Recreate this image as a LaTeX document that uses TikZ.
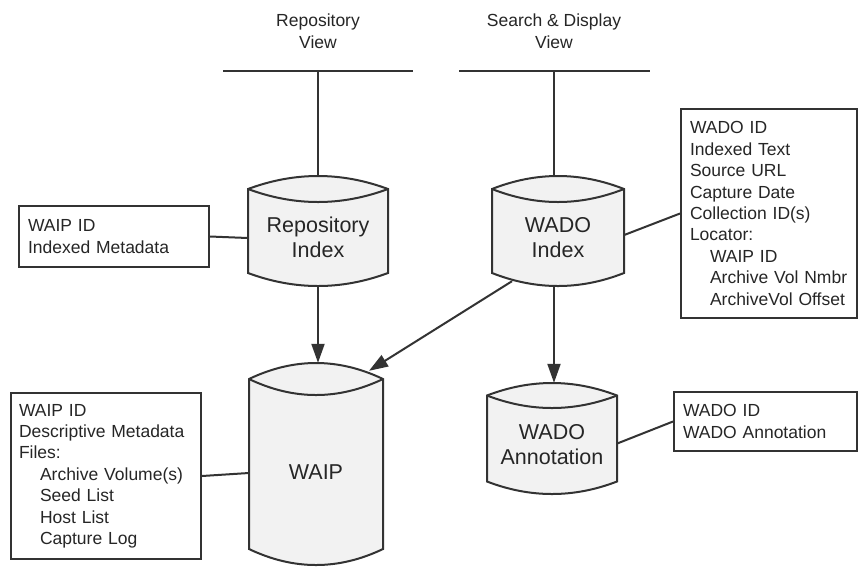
\documentclass[tikz,border=0pt]{standalone}
\usepackage{fontspec}
\setmainfont{Liberation Sans}
\usetikzlibrary{arrows.meta,calc}

\definecolor{inkline}{HTML}{333333}
\definecolor{inktext}{HTML}{262626}
\definecolor{cylfill}{HTML}{F2F2F2}

\tikzset{
  link/.style={draw=inkline, line width=2pt},
  flow/.style={link, -{Triangle[length=19pt,width=13pt]}},
  infobox/.style={draw=inkline, line width=2pt, rectangle, anchor=north west,
    inner ysep=0pt, align=left, text=inktext,
    font=\fontsize{17.5}{21.4}\selectfont},
  viewtitle/.style={align=center, text=inktext, inner sep=0pt,
    font=\fontsize{17.5}{22}\selectfont},
  cylframe/.style={rectangle, inner sep=0pt},
  cyltext/.style={align=center, text=inktext, inner sep=0pt,
    font=\fontsize{21.5}{24.5}\selectfont},
}

% Database cylinder: #1 name, #2 centre x, #3 top y, #4 width,
% #5 height, #6 depth of the rim lens, #7 label
\newcommand\dbcylinder[7]{%
  \pgfmathsetmacro\cylL{#2-#4/2}%
  \pgfmathsetmacro\cylR{#2+#4/2}%
  \pgfmathsetmacro\cylA{#2-#4/6}%
  \pgfmathsetmacro\cylB{#2+#4/6}%
  \pgfmathsetmacro\cylC{#3+#6}%
  \pgfmathsetmacro\cylUp{#3+#6-4*#6/3}%
  \pgfmathsetmacro\cylDn{#3+#6+4*#6/3}%
  \pgfmathsetmacro\cylE{#3+#5-#6}%
  \pgfmathsetmacro\cylF{#3+#5-#6+4*#6/3}%
  \pgfmathsetmacro\cylM{#3+#5/2}%
  \pgfmathsetmacro\cylT{(#3+2*#6+#3+#5-#6)/2}%
  \path[fill=cylfill, draw=inkline, line width=2pt]
    (\cylL,\cylC) .. controls (\cylA,\cylUp) and (\cylB,\cylUp) .. (\cylR,\cylC)
    -- (\cylR,\cylE) .. controls (\cylB,\cylF) and (\cylA,\cylF) .. (\cylL,\cylE)
    -- cycle;
  \draw[inkline, line width=2pt]
    (\cylL,\cylC) .. controls (\cylA,\cylDn) and (\cylB,\cylDn) .. (\cylR,\cylC);
  \node[cylframe, minimum width=#4pt, minimum height=#5pt] (#1) at (#2,\cylM) {};
  \node[cyltext] (#1-label) at (#2,\cylT) {#7};
}

\begin{document}
\begin{tikzpicture}[x=1pt,y=-1pt]
\useasboundingbox[fill=white] (0,0) rectangle (858,566);

% view headings and their bars
\node[viewtitle] (reptitle) at (318,31) {Repository\\View};
\node[viewtitle] (sdtitle) at (554,31) {Search \& Display\\View};
\coordinate (repbarL) at (223,71);
\coordinate (repbarR) at (413,71);
\coordinate (repbarM) at (318,71);
\coordinate (sdbarL) at (459,71);
\coordinate (sdbarR) at (650,71);
\coordinate (sdbarM) at (554,71);

% data stores
\dbcylinder{repidx}{318}{176}{140}{110}{13}{Repository\\Index}
\dbcylinder{wadoidx}{558}{176}{132}{110}{13}{WADO\\Index}
\dbcylinder{waip}{316}{363}{134}{202}{16}{WAIP}
\dbcylinder{wadoann}{552}{383}{130}{111}{12.5}{WADO\\Annotation}

% record contents
\node[infobox, text width=172pt, inner xsep=9pt, minimum height=61pt]
  (repmeta) at (18,205) {WAIP ID\\Indexed Metadata};
\node[infobox, text width=174pt, inner xsep=8pt, minimum height=166pt]
  (waipmeta) at (10,392) {WAIP ID\\Descriptive Metadata\\Files:\\
  \hspace*{21pt}Archive Volume(s)\\\hspace*{21pt}Seed List\\
  \hspace*{21pt}Host List\\\hspace*{21pt}Capture Log};
\node[infobox, text width=158pt, inner xsep=9pt, minimum height=209pt]
  (wadometa) at (680,108) {WADO ID\\Indexed Text\\Source URL\\Capture Date\\
  Collection ID(s)\\Locator:\\\hspace*{20pt}WAIP ID\\
  \hspace*{20pt}Archive Vol Nmbr\\\hspace*{20pt}ArchiveVol Offset};
\node[infobox, text width=165pt, inner xsep=9pt, minimum height=59pt]
  (annmeta) at (673,391) {WADO ID\\WADO Annotation};

% bars and drops
\draw[link] (repbarL) -- (repbarR);
\draw[link] (repbarM) -- (repidx.north);
\draw[link] (sdbarL) -- (sdbarR);
\draw[link] (sdbarM) -- (sdbarM |- wadoidx.north);

% flows between stores
\draw[flow] (repidx.south) -- (repidx.south |- waip.north);
\draw[flow] (wadoidx.south -| sdbarM) -- (wadoann.north -| sdbarM);
\draw[flow] ($(wadoidx.south)+(-46,-5)$) -- ($(waip.north)+(53,8)$);

% content call-outs
\draw[link] (repmeta.east) -- ($(repidx.west)+(0,7)$);
\draw[link] (wadometa.west) -- ($(wadoidx.east)+(0,4)$);
\draw[link] (annmeta.west) -- ($(wadoann.east)+(0,5)$);
\draw[link] (waipmeta.east) -- ($(waip.west)+(0,9)$);
\end{tikzpicture}
\end{document}
